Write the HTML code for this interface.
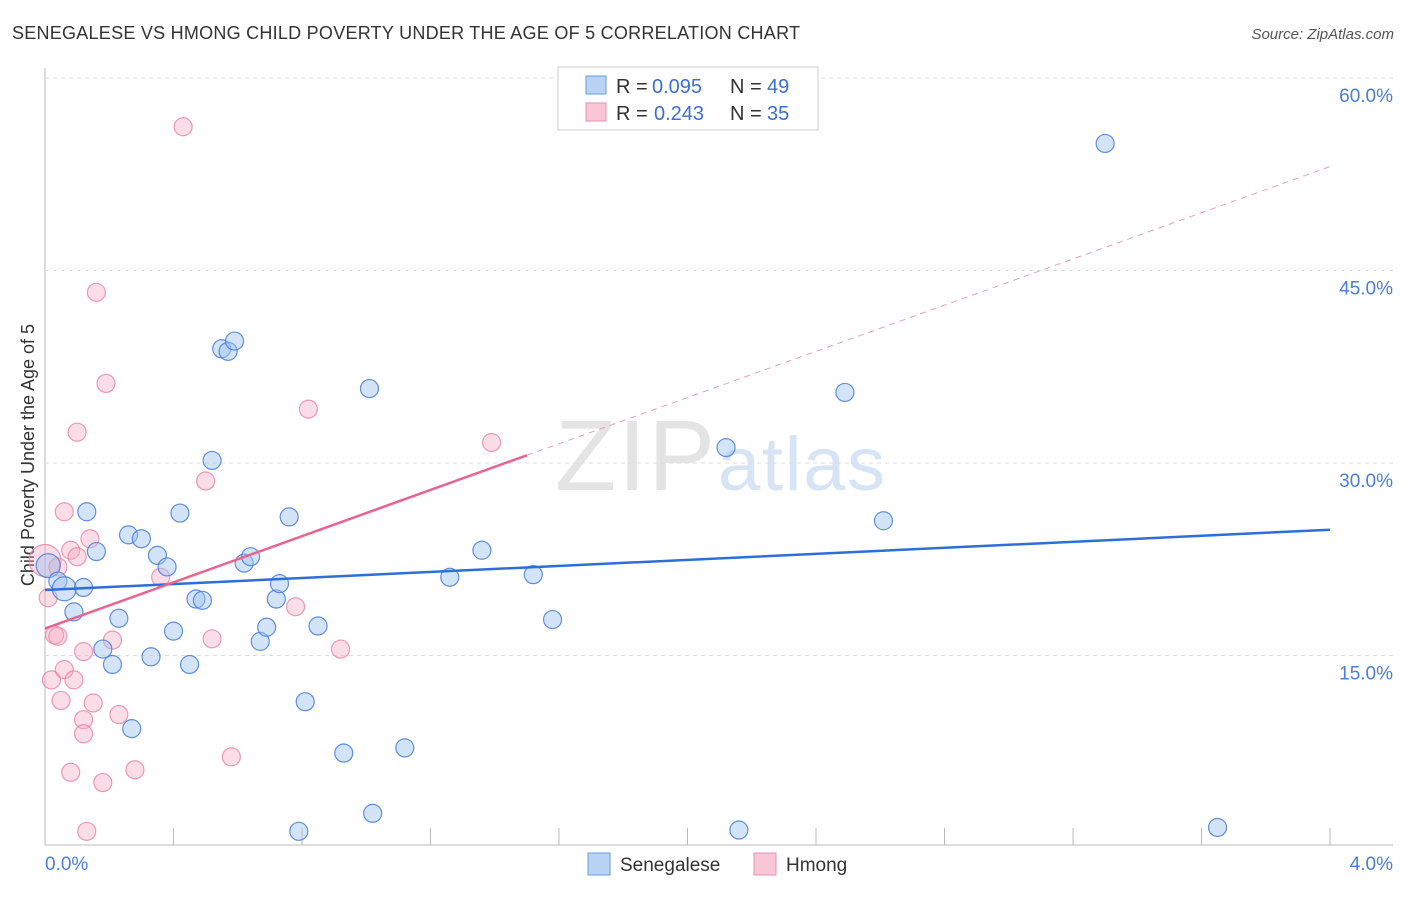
<!DOCTYPE html>
<html><head><meta charset="utf-8"><style>
body{margin:0;background:#fff;font-family:"Liberation Sans",sans-serif;}
svg text{font-family:"Liberation Sans",sans-serif;}
</style></head><body>
<svg id="c" width="1406" height="892" xmlns="http://www.w3.org/2000/svg">
<text x="12" y="39" font-size="18" fill="#333" textLength="788">SENEGALESE VS HMONG CHILD POVERTY UNDER THE AGE OF 5 CORRELATION CHART</text>
<text x="1394" y="39" font-size="15" fill="#555" font-style="italic" text-anchor="end">Source: ZipAtlas.com</text>
<text x="555" y="490" font-size="100" fill="#e4e4e4" textLength="160" font-family="Liberation Serif">ZIP</text>
<text x="718" y="490" font-size="76" fill="#d6e4f5" textLength="167">atlas</text>
<text transform="translate(34,455) rotate(-90)" font-size="18" fill="#333" text-anchor="middle">Child Poverty Under the Age of 5</text>
<g id="grid"></g><g id="pts"></g><g id="lines"></g>
<g>
<rect x="558" y="67" width="260" height="63" fill="#fff" stroke="#ccc"/>
<rect x="586" y="76" width="20" height="18" fill="#b9d3f5" stroke="#6b9de0"/>
<rect x="586" y="103" width="20" height="18" fill="#f9c6d5" stroke="#e890ac"/>
<g font-size="20" fill="#333">
<text x="616" y="93">R =</text><text x="652" y="93" fill="#3b6fd4">0.095</text><text x="730" y="93">N =</text><text x="767" y="93" fill="#3b6fd4">49</text></g>
<g font-size="20" fill="#333">
<text x="616" y="120">R =</text><text x="654" y="120" fill="#3b6fd4">0.243</text><text x="730" y="120">N =</text><text x="767" y="120" fill="#3b6fd4">35</text></g>
</g>
<g>
<rect x="588" y="853" width="22" height="22" fill="#b9d3f5" stroke="#6b9de0"/>
<text x="620" y="871" font-size="19" fill="#333">Senegalese</text>
<rect x="754" y="853" width="22" height="22" fill="#f9c6d5" stroke="#e890ac"/>
<text x="786" y="871" font-size="19" fill="#333">Hmong</text>
</g>
</svg>
<script>
const yTicks=[15,30,45,60];
const yTickLabels=["15.0%","30.0%","45.0%","60.0%"];
const xTickLabels=["0.0%","4.0%"];
const senX=[0.01,0.04,0.06,0.09,0.12,0.13,0.16,0.18,0.21,0.23,0.26,0.27,0.30,0.33,0.35,0.38,0.40,0.42,0.45,0.47,0.49,0.52,0.55,0.57,0.59,0.62,0.64,0.67,0.69,0.72,0.73,0.76,0.79,0.81,0.85,0.93,1.01,1.02,1.12,1.26,1.36,1.52,1.58,2.12,2.16,2.49,2.61,3.30,3.65];
const senY=[22.0,20.8,20.2,18.4,20.3,26.2,23.1,15.5,14.3,17.9,24.4,9.3,24.1,14.9,22.8,21.9,16.9,26.1,14.3,19.4,19.3,30.2,38.9,38.7,39.5,22.2,22.7,16.1,17.2,19.4,20.6,25.8,1.3,11.4,17.3,7.4,35.8,2.7,7.8,21.1,23.2,21.3,17.8,31.2,1.4,35.5,25.5,54.9,1.6];
const hmX=[0.0,0.01,0.02,0.03,0.04,0.05,0.06,0.06,0.08,0.08,0.09,0.10,0.10,0.12,0.12,0.12,0.13,0.14,0.15,0.16,0.18,0.19,0.21,0.23,0.28,0.36,0.43,0.50,0.52,0.58,0.78,0.82,0.92,1.39,0.04];
const hmY=[22.4,19.5,13.1,16.6,21.9,11.5,26.2,13.9,23.2,5.9,13.1,32.4,22.7,10.0,8.9,15.3,1.3,24.1,11.3,43.3,5.1,36.2,16.2,10.4,6.1,21.1,56.2,28.6,16.3,7.1,18.8,34.2,15.5,31.6,16.5];
const senTrend=[20.1,24.8];
const hmTrend=[17.1,53.1];
const NS="http://www.w3.org/2000/svg";
const X0=45,X1=1330,Y0=848,PXP=770/60;
const xs=v=>X0+v/4*(X1-X0), ys=v=>Y0-v*PXP;
function mk(t,a,p){const e=document.createElementNS(NS,t);for(const k in a)e.setAttribute(k,a[k]);document.getElementById(p).appendChild(e);return e;}
let e=mk('line',{x1:45,y1:68,x2:45,y2:845,stroke:'#bbb'},'grid');


e=mk('line',{x1:45,y1:845,x2:1393,y2:845,stroke:'#bbb'},'grid');


for(let i=0;i<=10;i++){e=mk('line',{x1:xs(i*0.4),y1:828,x2:xs(i*0.4),y2:845,stroke:'#bbb'},'grid');

}
yTicks.forEach((t,i)=>{e=mk('line',{x1:45,y1:ys(t),x2:1393,y2:ys(t),stroke:'#ddd','stroke-dasharray':'4,4'},'grid');


e=mk('text',{x:1393,y:ys(t)+24,'font-size':19,fill:'#4a7fd6','text-anchor':'end'},'grid');e.textContent=yTickLabels[i];

});
e=mk('text',{x:45,y:870,'font-size':19,fill:'#4a7fd6'},'grid');e.textContent=xTickLabels[0];


e=mk('text',{x:1393,y:870,'font-size':19,fill:'#4a7fd6','text-anchor':'end'},'grid');e.textContent=xTickLabels[1];


hmX.forEach((x,i)=>{e=mk('circle',{cx:xs(x),cy:ys(hmY[i]),r:i==0?16:9,fill:'rgba(246,170,195,0.4)',stroke:'rgba(232,130,165,0.8)','stroke-width':1.2},'pts');

});
senX.forEach((x,i)=>{e=mk('circle',{cx:xs(x),cy:ys(senY[i]),r:(i==0||i==2)?12:9,fill:'rgba(160,195,240,0.45)',stroke:'rgba(70,125,215,0.85)','stroke-width':1.2},'pts');

});
e=mk('line',{x1:xs(0),y1:ys(senTrend[0]),x2:xs(4),y2:ys(senTrend[1]),stroke:'#2d6fd6','stroke-width':2.5},'lines');


const hm=x=>hmTrend[0]+(hmTrend[1]-hmTrend[0])*x/4;
e=mk('line',{x1:xs(0),y1:ys(hm(0)),x2:xs(1.5),y2:ys(hm(1.5)),stroke:'#e8648f','stroke-width':2.5},'lines');


e=mk('line',{x1:xs(1.5),y1:ys(hm(1.5)),x2:xs(4),y2:ys(hm(4)),stroke:'#eaa0b8','stroke-width':1,'stroke-dasharray':'6,5'},'lines');


</script>
</body></html>
